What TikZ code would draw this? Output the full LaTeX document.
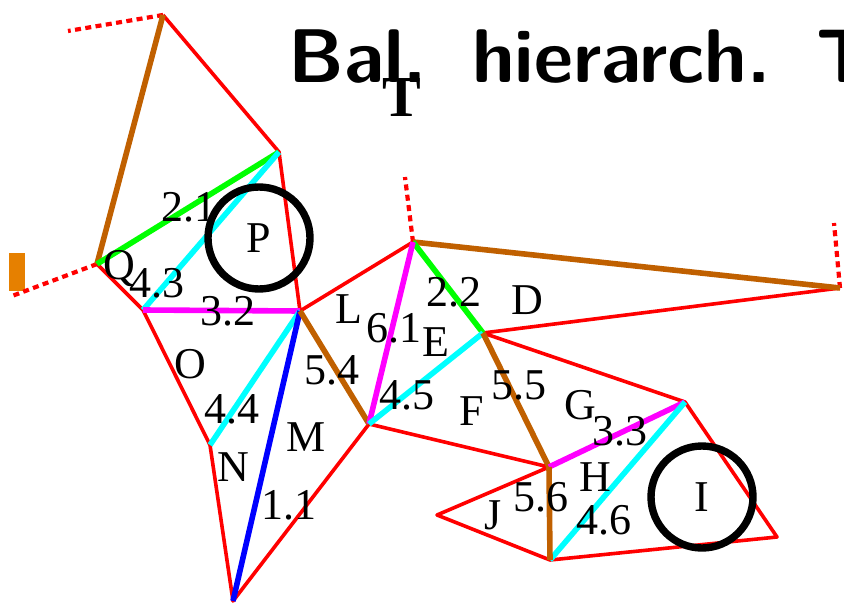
\documentclass[tikz,border=0pt]{standalone}
\usepackage{fontspec}
\newfontfamily\labelfont{Liberation Serif}

\definecolor{edgebrown}{RGB}{192,96,0}
\definecolor{markorange}{RGB}{230,128,0}
\definecolor{edgecyan}{RGB}{0,255,255}
\definecolor{edgemagenta}{RGB}{255,0,255}
\definecolor{edgegreen}{RGB}{0,255,0}

\begin{document}
\begin{tikzpicture}[
  x=0.5pt, y=-0.5pt,
  mesh/.style={draw=red, line width=1.8pt, line join=round},
  ghost/.style={draw=red, line width=2.1pt, dash pattern=on 3pt off 2.2pt},
  split/.style={line width=2.8pt},
  ring/.style={draw, circle, line width=3.7pt, minimum size=51pt, inner sep=0pt,
    font=\labelfont\fontsize{22}{22}\selectfont}
]
\tikzstyle{lbl}=[font=\labelfont\fontsize{22}{22}\selectfont, inner sep=0pt]
\clip (0,0) rectangle (844,604);

% Title
\node [anchor=base west, inner sep=0pt, font=\sffamily\bfseries\fontsize{38}{38}\selectfont]
  (title) at (288,83) {Bal.\hspace{0.6em}hierarch.\hspace{0.6em}T};
\node [lbl, font=\labelfont\bfseries\fontsize{29}{29}\selectfont] (tee) at (402,98) {T};

% Vertices
\coordinate (qt) at (163,15);
\coordinate (pr) at (279,152);
\coordinate (ql) at (97,264);
\coordinate (ol) at (143,310);
\coordinate (mc) at (300,311);
\coordinate (dt) at (413,242);
\coordinate (dr) at (840,288);
\coordinate (ed) at (483,333);
\coordinate (fl) at (369,424);
\coordinate (nl) at (210,445);
\coordinate (mb) at (233,601);
\coordinate (fb) at (549,467);
\coordinate (gr) at (685,402);
\coordinate (hb) at (550,560);
\coordinate (jl) at (437,515);
\coordinate (ir) at (777,537);
% loose ends
\coordinate (qt') at (68,31);
\coordinate (ql') at (12,296);
\coordinate (dt') at (405,177);
\coordinate (dr') at (834,223);

\fill [markorange] (9,253) rectangle (25,291);

% Mesh edges
\draw [mesh] (qt) -- (pr) -- (mc) -- (dt);
\draw [mesh] (ql) -- (ol) -- (nl) -- (mb) -- (fl) -- (fb) -- (jl) -- (hb)
  -- (ir) -- (gr) -- (ed) -- (dr);
\draw [ghost] (qt) -- (qt');
\draw [ghost] (ql) -- (ql');
\draw [ghost] (dt) -- (dt');
\draw [ghost] (dr) -- (dr');

% Split edges
\draw [split, edgebrown] (qt) -- (ql);
\draw [split, edgegreen] (ql) -- (pr);
\draw [split, edgecyan] (ol) -- (pr);
\draw [split, edgemagenta] (ol) -- (mc);
\draw [split, edgecyan] (mc) -- (nl);
\draw [split, blue] (mc) -- (mb);
\draw [split, edgebrown] (mc) -- (fl);
\draw [split, edgebrown] (dt) -- (dr);
\draw [split, edgegreen] (dt) -- (ed);
\draw [split, edgemagenta] (dt) -- (fl);
\draw [split, edgecyan] (fl) -- (ed);
\draw [split, edgebrown] (ed) -- (fb);
\draw [split, edgemagenta] (fb) -- (gr);
\draw [split, edgecyan] (gr) -- (hb);
\draw [split, edgebrown] (fb) -- (hb);

% Labels
\node [lbl] (n21) at (189,207) {2.1};
\node [lbl] (q) at (119,268) {Q};
\node [lbl] (n43) at (157,283) {4.3};
\node [lbl] (n32) at (228,311) {3.2};
\node [lbl] (o) at (190,364) {O};
\node [lbl] (n44) at (232,409) {4.4};
\node [lbl] (n) at (233,467) {N};
\node [lbl] (m) at (306,437) {M};
\node [lbl] (n11) at (289,505) {1.1};
\node [lbl] (n54) at (332,370) {5.4};
\node [lbl] (l) at (349,309) {L};
\node [lbl] (n61) at (394,328) {6.1};
\node [lbl] (e) at (436,342) {E};
\node [lbl] (n22) at (454,292) {2.2};
\node [lbl] (d) at (527,300) {D};
\node [lbl] (n45) at (407,395) {4.5};
\node [lbl] (f) at (472,411) {F};
\node [lbl] (n55) at (519,385) {5.5};
\node [lbl] (g) at (580,405) {G};
\node [lbl] (n33) at (620,431) {3.3};
\node [lbl] (h) at (595,477) {H};
\node [lbl] (n56) at (541,497) {5.6};
\node [lbl] (j) at (493,515) {J};
\node [lbl] (n46) at (604,520) {4.6};

% Marked triangles
\node [ring] (p) at (259,238) {P};
\node [ring] (i) at (702,497) {I};

\end{tikzpicture}
\end{document}
